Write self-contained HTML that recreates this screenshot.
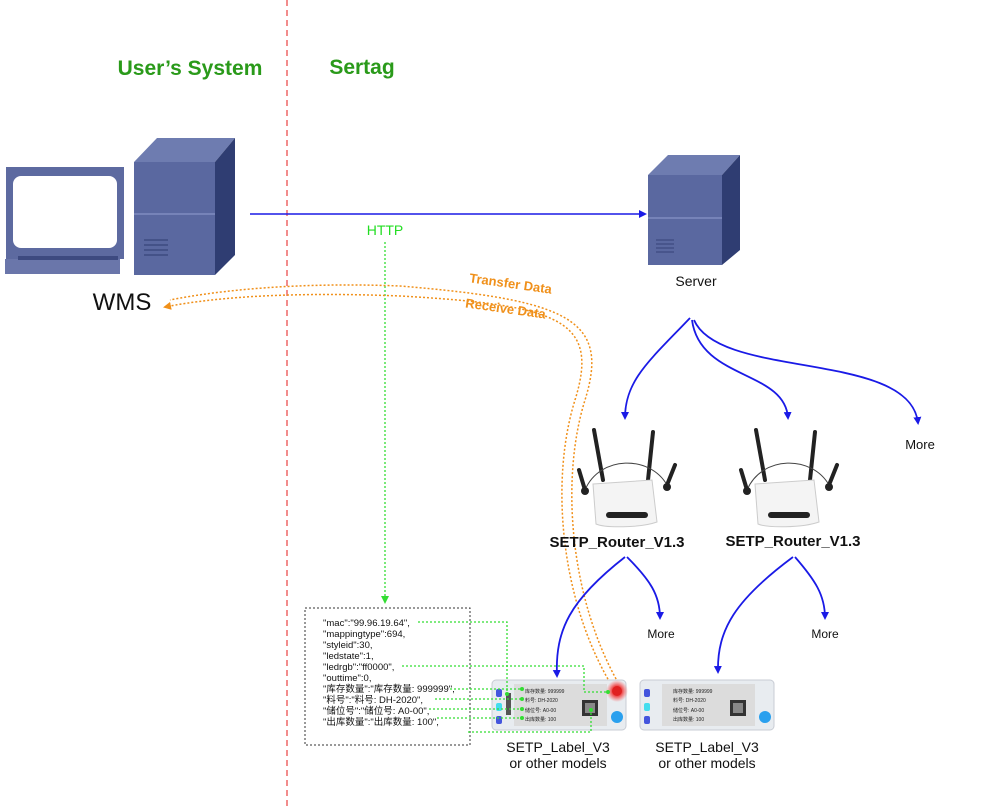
<!DOCTYPE html>
<html><head><meta charset="utf-8"><style>body{margin:0;background:#fff}svg{display:block}</style></head><body>
<svg width="1000" height="809" viewBox="0 0 1000 809" xmlns="http://www.w3.org/2000/svg" font-family="Liberation Sans, Noto Sans CJK SC, sans-serif">
<defs>
<marker id="ab" markerWidth="8" markerHeight="8" refX="6" refY="4" orient="auto" markerUnits="userSpaceOnUse"><path d="M0,0 L8,4 L0,8 z" fill="#1a1ae6"/></marker>
<marker id="ao" markerWidth="8" markerHeight="8" refX="6" refY="4" orient="auto" markerUnits="userSpaceOnUse"><path d="M0,0 L8,4 L0,8 z" fill="#f0901a"/></marker>
<marker id="ag" markerWidth="8" markerHeight="8" refX="6" refY="4" orient="auto" markerUnits="userSpaceOnUse"><path d="M0,0 L8,4 L0,8 z" fill="#33dd33"/></marker>
<radialGradient id="rg"><stop offset="0" stop-color="#e02020"/><stop offset="0.5" stop-color="#f03030" stop-opacity="0.8"/><stop offset="1" stop-color="#ff5050" stop-opacity="0"/></radialGradient>
</defs>
<line x1="287" y1="0" x2="287" y2="809" stroke="#e84040" stroke-width="1.2" stroke-dasharray="6,4"/>
<text x="190" y="75" font-size="21" font-weight="bold" fill="#2a9a1a" text-anchor="middle">User’s System</text>
<text x="362" y="74" font-size="21" font-weight="bold" fill="#2a9a1a" text-anchor="middle">Sertag</text>
<!-- computer -->
<rect x="6" y="167" width="118" height="92" fill="#5d6aa0"/>
<rect x="13" y="176" width="104" height="72" rx="8" fill="#fff"/>
<rect x="5" y="259" width="115" height="15" fill="#6a76aa"/>
<rect x="18" y="256" width="100" height="4" fill="#3d4a80"/>
<polygon points="134,162 157,138 235,138 215,162" fill="#6e7cb0"/>
<polygon points="215,162 235,138 235,255 215,275" fill="#2f3d72"/>
<rect x="134" y="162" width="81" height="113" fill="#5a68a0"/>
<line x1="134" y1="214" x2="215" y2="214" stroke="#7f8cc0" stroke-width="1.5"/>
<g stroke="#3d4a80" stroke-width="1.5"><line x1="144" y1="240" x2="168" y2="240"/><line x1="144" y1="245" x2="168" y2="245"/><line x1="144" y1="250" x2="168" y2="250"/><line x1="144" y1="255" x2="168" y2="255"/></g>
<text x="122" y="310" font-size="24" text-anchor="middle" fill="#111">WMS</text>
<!-- server -->
<polygon points="648,175 668,155 740,155 722,175" fill="#6e7cb0"/>
<polygon points="722,175 740,155 740,250 722,265" fill="#2f3d72"/>
<rect x="648" y="175" width="74" height="90" fill="#5a68a0"/>
<line x1="648" y1="218" x2="722" y2="218" stroke="#7f8cc0" stroke-width="1.5"/>
<g stroke="#3d4a80" stroke-width="1.3"><line x1="656" y1="240" x2="674" y2="240"/><line x1="656" y1="244" x2="674" y2="244"/><line x1="656" y1="248" x2="674" y2="248"/><line x1="656" y1="252" x2="674" y2="252"/></g>
<text x="696" y="286" font-size="14" text-anchor="middle" fill="#111">Server</text>
<line x1="250" y1="214" x2="645" y2="214" stroke="#1a1ae6" stroke-width="1.6" marker-end="url(#ab)"/>
<text x="385" y="235" font-size="14" fill="#22dd22" text-anchor="middle">HTTP</text>
<line x1="385" y1="242" x2="385" y2="602" stroke="#33dd33" stroke-width="1.3" stroke-dasharray="2,2" marker-end="url(#ag)"/>
<!-- orange -->
<path d="M612,686 C560,600 550,480 575,400 C600,320 560,305 400,296 C300,292 220,296 165,307" fill="none" stroke="#f0901a" stroke-width="1.5" stroke-dasharray="2,2" marker-end="url(#ao)"/>
<path d="M620,686 C570,600 560,480 585,400 C610,320 570,300 400,286 C300,282 220,290 170,300" fill="none" stroke="#f0901a" stroke-width="1.5" stroke-dasharray="2,2"/>
<text x="510" y="288" font-size="13" font-weight="bold" fill="#f0901a" text-anchor="middle" transform="rotate(8 510 288)">Transfer Data</text>
<text x="505" y="313" font-size="13" font-weight="bold" fill="#f0901a" text-anchor="middle" transform="rotate(8 505 313)">Receive Data</text>
<!-- blue branches -->
<g fill="none" stroke="#1a1ae6" stroke-width="1.8">
<path d="M690,318 C650,360 625,380 625,418" marker-end="url(#ab)"/>
<path d="M692,320 C700,380 785,370 788,418" marker-end="url(#ab)"/>
<path d="M694,320 C720,380 910,350 918,423" marker-end="url(#ab)"/>
<path d="M625,557 C570,600 555,630 557,676" marker-end="url(#ab)"/>
<path d="M627,557 C650,580 660,595 660,618" marker-end="url(#ab)"/>
<path d="M793,557 C735,600 717,630 718,672" marker-end="url(#ab)"/>
<path d="M795,557 C815,580 825,595 825,618" marker-end="url(#ab)"/>
</g>
<text x="920" y="449" font-size="13" fill="#111" text-anchor="middle">More</text>
<text x="661" y="638" font-size="12" fill="#111" text-anchor="middle">More</text>
<text x="825" y="638" font-size="12" fill="#111" text-anchor="middle">More</text>
<!-- routers -->
<g id="r1">
<g stroke="#222" stroke-width="4" stroke-linecap="round"><line x1="594" y1="430" x2="603" y2="480"/><line x1="653" y1="432" x2="648" y2="480"/><line x1="579" y1="470" x2="585" y2="490"/><line x1="675" y1="465" x2="667" y2="485"/></g>
<path d="M585,490 C600,455 650,455 667,485" fill="none" stroke="#444" stroke-width="1"/>
<circle cx="585" cy="491" r="4" fill="#222"/><circle cx="667" cy="487" r="4" fill="#222"/>
<path d="M593,484 L652,480 L657,522 C640,528 605,528 596,524 Z" fill="#f4f4f4" stroke="#ccc"/>
<rect x="606" y="512" width="42" height="6" rx="3" fill="#222"/>
</g>
<use href="#r1" transform="translate(162,0)"/>
<text x="617" y="547" font-size="15" font-weight="bold" fill="#111" text-anchor="middle">SETP_Router_V1.3</text>
<text x="793" y="546" font-size="15" font-weight="bold" fill="#111" text-anchor="middle">SETP_Router_V1.3</text>
<!-- dotted box -->
<rect x="305" y="608" width="165" height="137" fill="none" stroke="#333" stroke-dasharray="2,2"/>
<g font-size="9.5" fill="#111">
<text x="323" y="626">"mac":"99.96.19.64",</text>
<text x="323" y="637">"mappingtype":694,</text>
<text x="323" y="648">"styleid":30,</text>
<text x="323" y="659">"ledstate":1,</text>
<text x="323" y="670">"ledrgb":"ff0000",</text>
<text x="323" y="681">"outtime":0,</text>
<text x="323" y="692">"库存数量":"库存数量: 999999",</text>
<text x="323" y="703">"料号":"料号: DH-2020",</text>
<text x="323" y="714">"储位号":"储位号: A0-00",</text>
<text x="323" y="725">"出库数量":"出库数量: 100",</text>
</g>
<!-- labels -->
<g id="l1">
<rect x="492" y="680" width="134" height="50" rx="4" fill="#e8ecf0" stroke="#c8ccd4"/>
<rect x="496" y="689" width="6" height="8" rx="2" fill="#4455dd"/><rect x="496" y="703" width="6" height="8" rx="2" fill="#44ddee"/><rect x="496" y="716" width="6" height="8" rx="2" fill="#4455dd"/>
<rect x="514" y="684" width="93" height="42" fill="#dcdcdc"/>
<g font-size="5" fill="#222"><text x="525" y="693">库存数量: 999999</text><text x="525" y="702">料号: DH-2020</text><text x="525" y="712">储位号: A0-00</text><text x="525" y="721">出库数量: 100</text></g>
<rect x="582" y="700" width="16" height="16" fill="#333"/><rect x="585" y="703" width="10" height="10" fill="#888"/>
<circle cx="617" cy="717" r="6" fill="#2aa0ee"/>
</g>
<use href="#l1" transform="translate(148,0)"/>
<circle cx="617" cy="691" r="11" fill="url(#rg)"/>
<circle cx="617" cy="691" r="5" fill="#e02020"/>
<rect x="506" y="693" width="5" height="22" fill="#555"/>
<g fill="none" stroke="#33dd33" stroke-width="1.3" stroke-dasharray="2,2">
<path d="M418,622 H507 V693"/>
<path d="M402,666 H584 V692 H607"/>
<path d="M450,689 H521"/><path d="M435,699 H521"/><path d="M429,709 H521"/><path d="M437,718 H521"/>
<path d="M468,732 H591 V710"/>
</g>
<g fill="#33dd33"><circle cx="522" cy="689" r="2"/><circle cx="522" cy="699" r="2"/><circle cx="522" cy="709" r="2"/><circle cx="522" cy="718" r="2"/><circle cx="608" cy="692" r="2"/><circle cx="591" cy="710" r="2"/><circle cx="507" cy="694" r="2"/></g>
<g font-size="14" fill="#111" text-anchor="middle">
<text x="558" y="752">SETP_Label_V3</text><text x="558" y="768">or other models</text>
<text x="707" y="752">SETP_Label_V3</text><text x="707" y="768">or other models</text>
</g>
</svg>
</body></html>
